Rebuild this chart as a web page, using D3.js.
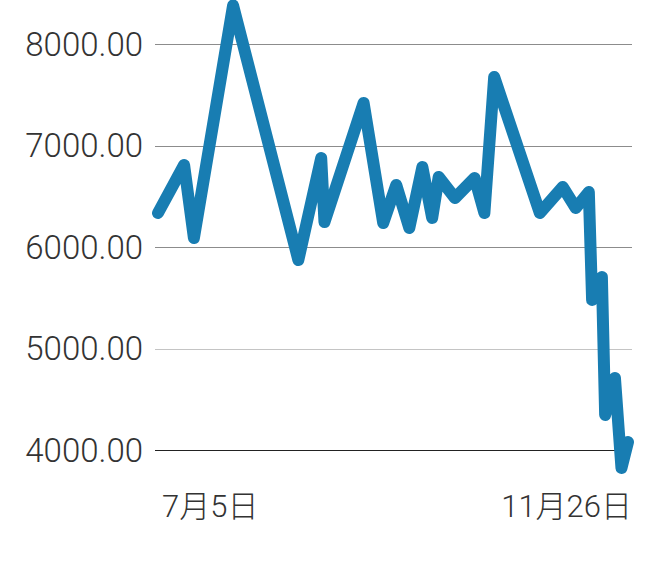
<!DOCTYPE html>
<html>
<head>
<meta charset="utf-8">
<script src="https://cdn.jsdelivr.net/npm/d3@7"></script>
<style>
  html, body { margin: 0; padding: 0; background: #fff; }
  svg { display: block; }
  text { font-family: "Roboto", "Noto Sans CJK SC", sans-serif; font-weight: 300; fill: #333; }
</style>
</head>
<body>
<svg id="chart" width="646" height="566"></svg>
<script>
// Data
const dates = [
  "2018-07-05","2018-07-13","2018-07-16","2018-07-28","2018-08-17","2018-08-24",
  "2018-08-25","2018-09-06","2018-09-12","2018-09-16","2018-09-20","2018-09-24",
  "2018-09-27","2018-09-29","2018-10-04","2018-10-10","2018-10-13","2018-10-16",
  "2018-10-30","2018-11-06","2018-11-10","2018-11-14","2018-11-15","2018-11-18",
  "2018-11-19","2018-11-22","2018-11-24","2018-11-26"
];
const values = [
  6335, 6808, 6089, 8380, 5872, 6877,
  6246, 7419, 6236, 6611, 6187, 6788,
  6286, 6690, 6483, 6680, 6335, 7675,
  6335, 6591, 6384, 6542, 5478, 5704,
  4345, 4709, 3823, 4079
];
const yTicks = [4000, 5000, 6000, 7000, 8000];
const xLabels = ["7月5日", "11月26日"];

const parse = d3.timeParse("%Y-%m-%d");
const data = dates.map((d, i) => ({ date: parse(d), value: values[i] }));

const svg = d3.select("#chart");
const x = d3.scaleTime()
  .domain(d3.extent(data, d => d.date))
  .range([158, 628]);
const y = d3.scaleLinear()
  .domain([4000, 8000])
  .range([450, 44]);

const gridColor = v => v === 4000 ? "#222" : (v === 5000 ? "#c4c4c4" : "#8c8c8c");

// gridlines
svg.append("g").selectAll("line")
  .data(yTicks)
  .join("line")
  .attr("x1", x.range()[0] - 3)
  .attr("x2", x.range()[1] + 4)
  .attr("y1", d => Math.round(y(d)) + 0.5)
  .attr("y2", d => Math.round(y(d)) + 0.5)
  .attr("stroke", gridColor)
  .attr("stroke-width", 1);

// y labels
svg.append("g").selectAll("text")
  .data(yTicks)
  .join("text")
  .attr("x", 143)
  .attr("y", d => y(d))
  .attr("dy", "0.36em")
  .attr("text-anchor", "end")
  .attr("font-size", 33)
  .text(d => d3.format(".2f")(d));

// line
const line = d3.line()
  .x(d => x(d.date))
  .y(d => y(d.value));

svg.append("path")
  .datum(data)
  .attr("d", line)
  .attr("fill", "none")
  .attr("stroke", "#187db2")
  .attr("stroke-width", 12)
  .attr("stroke-linejoin", "round")
  .attr("stroke-linecap", "round");

// x labels (first and last date)
svg.append("text")
  .attr("x", x(data[0].date) + 4)
  .attr("y", 517)
  .attr("text-anchor", "start")
  .attr("font-size", 31)
  .text(xLabels[0]);
svg.append("text")
  .attr("x", x(data[data.length - 1].date) + 4)
  .attr("y", 517)
  .attr("text-anchor", "end")
  .attr("font-size", 31)
  .text(xLabels[1]);
</script>
</body>
</html>
